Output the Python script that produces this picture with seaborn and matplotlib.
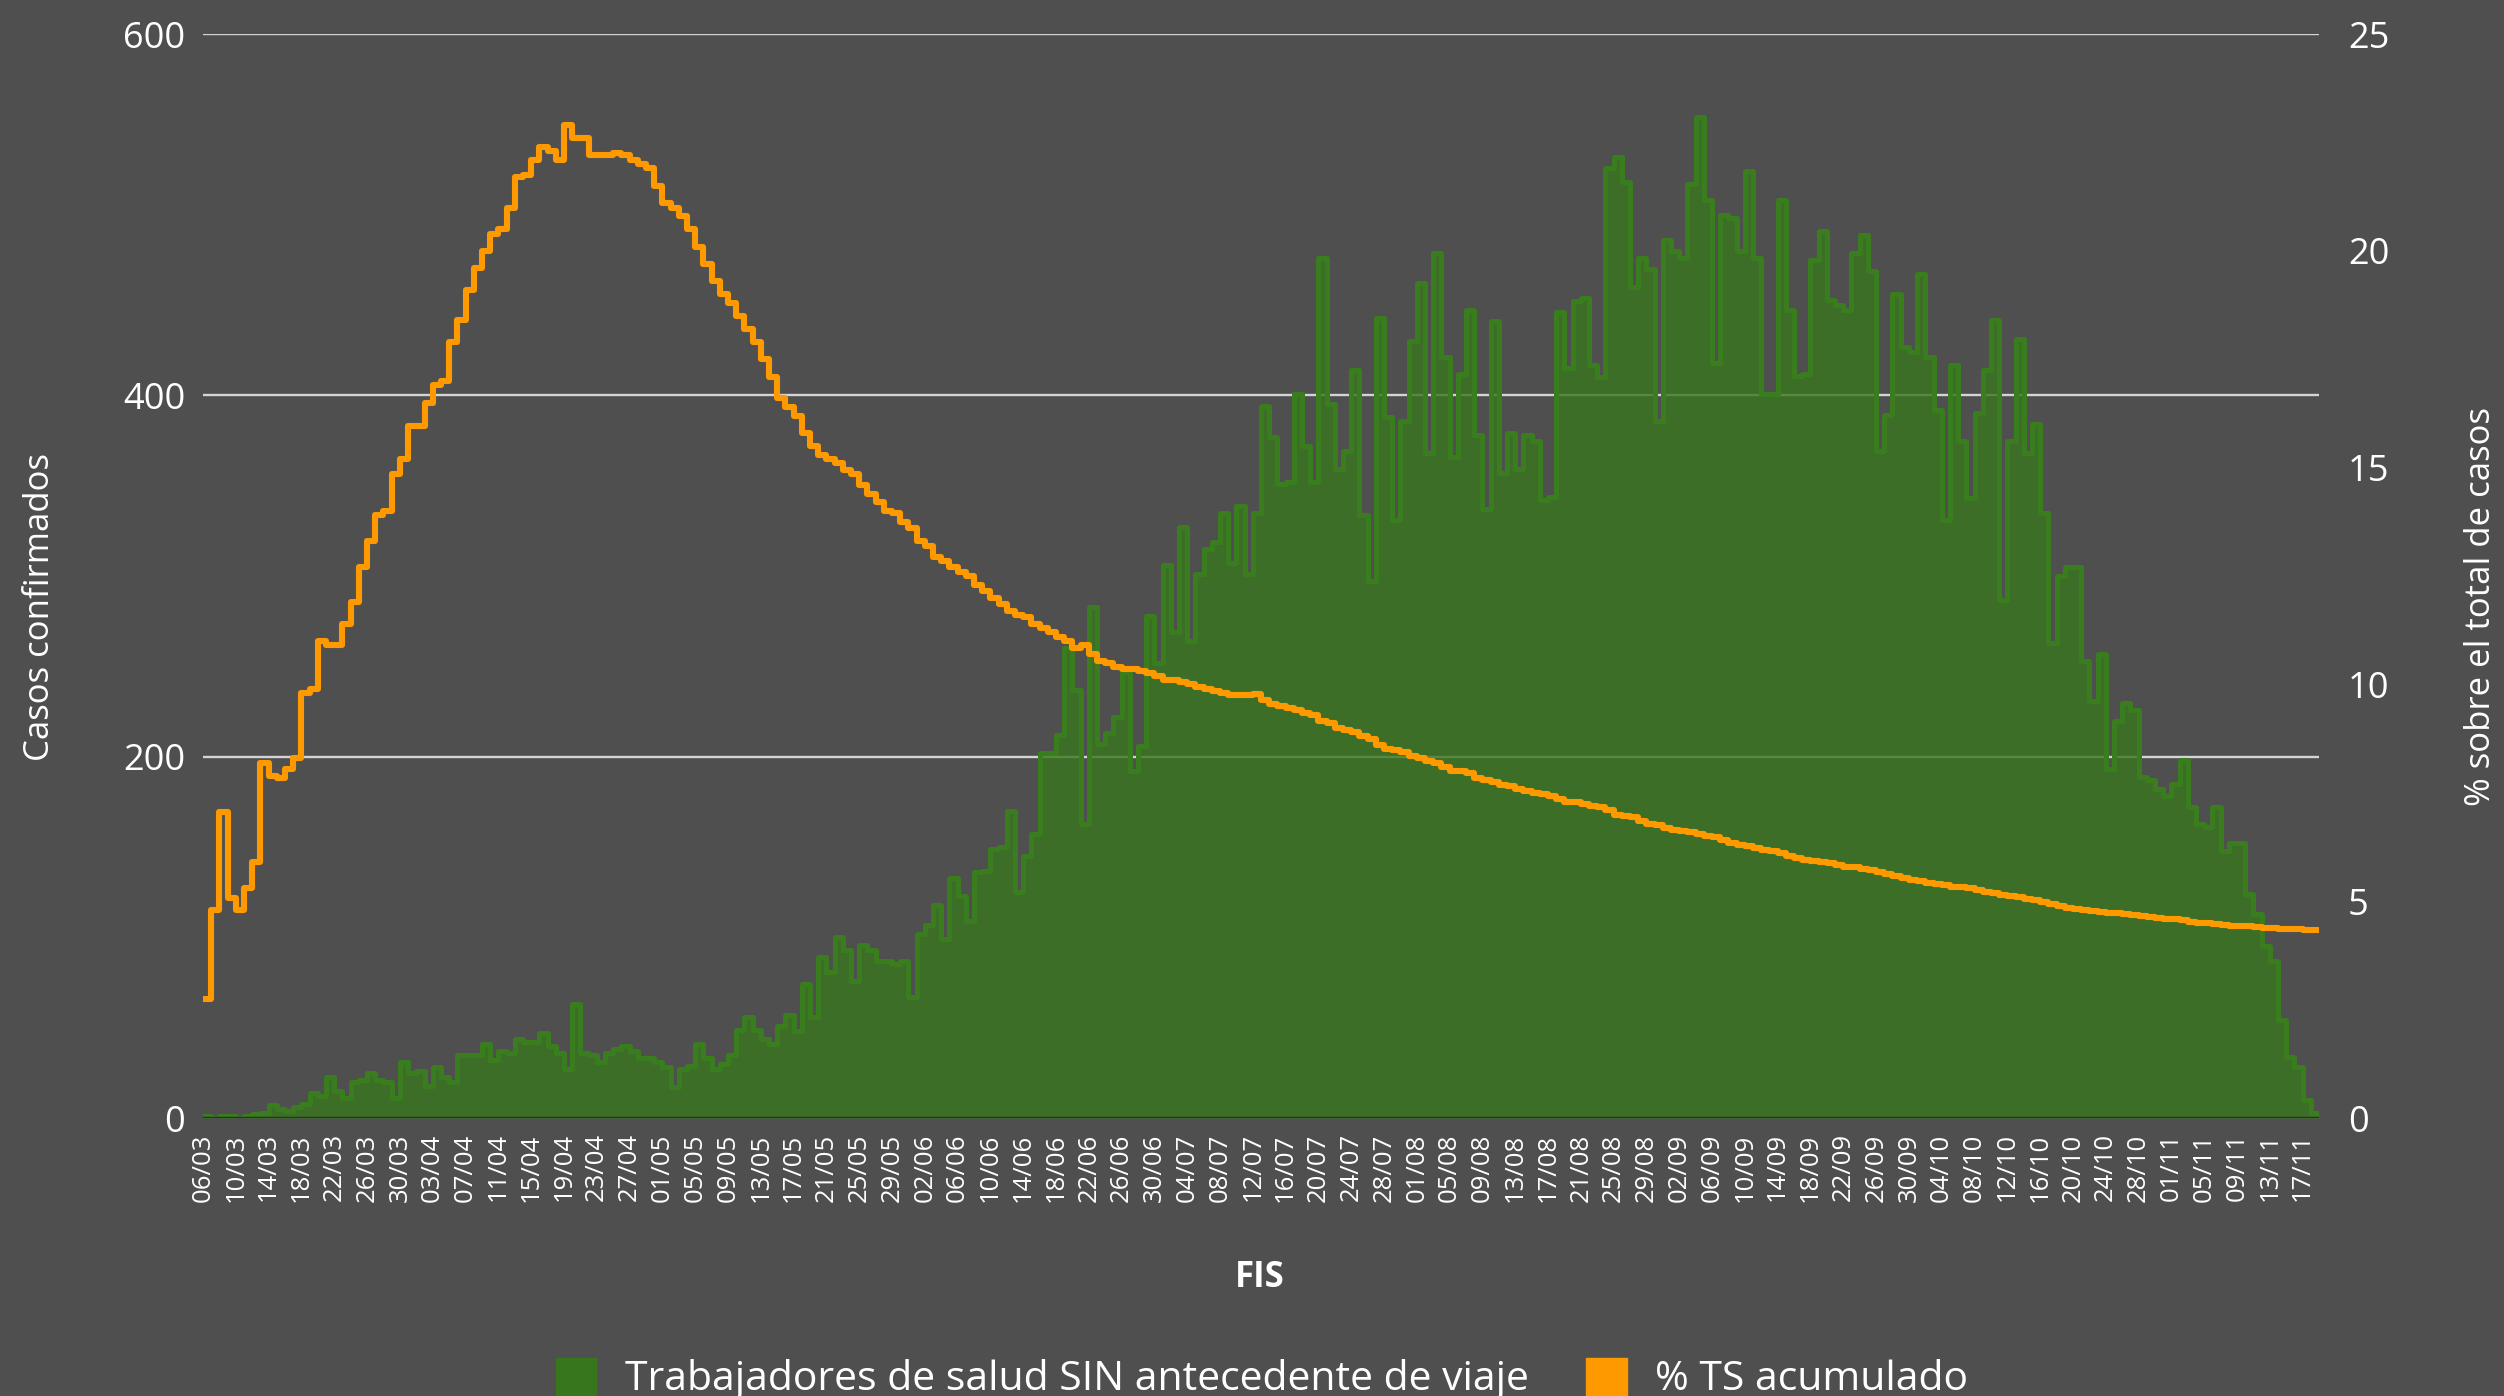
import numpy as np
import pandas as pd
import matplotlib
matplotlib.use("Agg")
import matplotlib.pyplot as plt
import seaborn as sns
from matplotlib.patches import Patch

# daily cases (FIS), one value per day starting 06/03/2020
cases = [
    1, 0, 1, 1, 0, 1, 2, 3, 7, 5,
    4, 6, 8, 14, 12, 23, 15, 11, 20, 21,
    25, 21, 20, 11, 31, 25, 26, 18, 28, 23,
    20, 35, 35, 35, 41, 32, 37, 36, 44, 42,
    42, 47, 40, 36, 27, 63, 36, 35, 31, 36,
    38, 40, 37, 33, 33, 31, 28, 17, 27, 29,
    41, 33, 27, 30, 35, 49, 56, 49, 44, 41,
    51, 57, 48, 74, 56, 89, 81, 100, 93, 76,
    96, 93, 87, 87, 85, 87, 67, 102, 107, 118,
    99, 133, 123, 109, 136, 137, 149, 150, 170, 125,
    145, 157, 202, 202, 212, 260, 237, 163, 283, 207,
    213, 222, 247, 192, 206, 278, 252, 306, 269, 327,
    264, 301, 315, 319, 335, 307, 339, 301, 335, 394,
    377, 351, 352, 401, 372, 352, 476, 395, 359, 369,
    414, 334, 297, 443, 388, 331, 386, 430, 462, 368,
    479, 421, 366, 412, 447, 378, 337, 441, 357, 379,
    359, 378, 375, 342, 344, 446, 415, 452, 454, 417,
    410, 526, 532, 518, 460, 476, 470, 386, 486, 480,
    476, 517, 554, 508, 418, 500, 498, 480, 524, 476,
    401, 401, 508, 447, 411, 412, 475, 491, 453, 450,
    447, 479, 489, 469, 369, 389, 456, 427, 424, 467,
    421, 392, 331, 417, 375, 343, 390, 414, 442, 287,
    375, 431, 368, 384, 335, 263, 300, 305, 305, 253,
    231, 257, 193, 220, 230, 226, 189, 187, 182, 178,
    185, 198, 172, 163, 161, 172, 148, 152, 152, 124,
    113, 95, 87, 54, 34, 28, 10, 3,
]

# % TS acumulado (right axis)
pct = [
    2.75, 4.8, 7.06, 5.08, 4.8, 5.3, 5.9, 8.2, 7.9, 7.85,
    8.05, 8.3, 9.8, 9.9, 11.0, 10.9, 10.9, 11.4, 11.9, 12.7,
    13.3, 13.9, 14.0, 14.85, 15.2, 15.95, 15.95, 16.5, 16.9, 17.0,
    17.9, 18.4, 19.1, 19.6, 20.0, 20.4, 20.5, 21.0, 21.7, 21.75,
    22.1, 22.4, 22.3, 22.1, 22.9, 22.6, 22.6, 22.2, 22.2, 22.2,
    22.25, 22.2, 22.1, 22.0, 21.9, 21.5, 21.1, 21.0, 20.8, 20.5,
    20.1, 19.7, 19.3, 19.0, 18.8, 18.5, 18.2, 17.9, 17.5, 17.1,
    16.6, 16.4, 16.2, 15.8, 15.5, 15.3, 15.2, 15.1, 14.95, 14.85,
    14.6, 14.4, 14.2, 14.0, 13.95, 13.75, 13.6, 13.3, 13.2, 12.95,
    12.85, 12.7, 12.6, 12.5, 12.3, 12.15, 12.0, 11.85, 11.7, 11.6,
    11.55, 11.4, 11.3, 11.2, 11.1, 11.0, 10.85, 10.9, 10.7, 10.55,
    10.5, 10.4, 10.35, 10.35, 10.3, 10.27, 10.2, 10.1, 10.1, 10.05,
    10.0, 9.95, 9.9, 9.85, 9.8, 9.75, 9.75, 9.75, 9.78, 9.65,
    9.55, 9.5, 9.45, 9.4, 9.35, 9.3, 9.15, 9.1, 9.0, 8.95,
    8.9, 8.8, 8.75, 8.6, 8.5, 8.48, 8.45, 8.35, 8.3, 8.23,
    8.2, 8.1, 8.0, 8.0, 7.95, 7.85, 7.8, 7.75, 7.68, 7.65,
    7.6, 7.55, 7.5, 7.48, 7.42, 7.35, 7.3, 7.28, 7.25, 7.2,
    7.17, 7.1, 7.0, 6.97, 6.95, 6.85, 6.78, 6.75, 6.7, 6.65,
    6.63, 6.6, 6.55, 6.5, 6.48, 6.42, 6.35, 6.3, 6.28, 6.22,
    6.18, 6.15, 6.12, 6.05, 6.0, 5.95, 5.93, 5.9, 5.88, 5.83,
    5.8, 5.78, 5.75, 5.72, 5.68, 5.63, 5.58, 5.53, 5.5, 5.46,
    5.43, 5.4, 5.38, 5.34, 5.32, 5.3, 5.27, 5.22, 5.18, 5.15,
    5.13, 5.1, 5.06, 5.02, 4.98, 4.93, 4.88, 4.85, 4.82, 4.8,
    4.78, 4.75, 4.73, 4.72, 4.7, 4.68, 4.66, 4.64, 4.62, 4.6,
    4.58, 4.56, 4.53, 4.51, 4.49, 4.47, 4.45, 4.44, 4.43, 4.42,
    4.4, 4.39, 4.38, 4.37, 4.36, 4.35, 4.34, 4.33,
]

first_day = "2020-03-06"
left_ticks = [0, 200, 400, 600]
right_ticks = [0, 5, 10, 15, 20, 25]

BG = "#4f4f4f"
GREEN = "#38761d"
ORANGE = "#ff9900"

sns.set_theme(style="dark", rc={"axes.facecolor": BG, "figure.facecolor": BG})
plt.rcParams["font.family"] = ["Open Sans", "DejaVu Sans"]

n = len(cases)
dates = pd.date_range(first_day, periods=n)
# each day drawn as a step from d to d+1
df = pd.DataFrame({
    "x": np.arange(n + 1),
    "cases": cases + [cases[-1]],
    "pct": pct + [pct[-1]],
})

fig = plt.figure(figsize=(25.04, 13.96), dpi=100)
ax = fig.add_axes([0.0811, 0.1991, 0.8450, 0.7765])

ax.fill_between(df["x"], df["cases"], step="post", color=GREEN, alpha=0.8, lw=0, zorder=2)
sns.lineplot(data=df, x="x", y="cases", drawstyle="steps-post", color="#3a7d1e",
             lw=3.6, ax=ax, zorder=3, solid_joinstyle="round", solid_capstyle="round")
ax.axhline(0, color="#2e2e2e", lw=2.5, zorder=4)

ax.set_xlim(0, n)
ax.set_ylim(0, 600)
ax.set_yticks(left_ticks)
ax.set_axisbelow(True)
ax.yaxis.grid(True, color="#d4d4d4", lw=1.7)
ax.xaxis.grid(False)
ax.set_xticks(np.arange(0, n, 4))
ax.set_xticklabels(dates[::4].strftime("%d/%m"), rotation=90)
ax.tick_params(axis="x", length=0, pad=11, labelsize=18.5, colors="white")
ax.tick_params(axis="y", length=0, pad=13, labelsize=26, colors="white")
ax.set_xlabel("")
ax.set_ylabel("")

ax2 = ax.twinx()
sns.lineplot(data=df, x="x", y="pct", drawstyle="steps-post", color=ORANGE,
             lw=4.4, ax=ax2, zorder=5, solid_joinstyle="round", solid_capstyle="round")
ax2.set_ylim(0, 25)
ax2.set_yticks(right_ticks)
ax2.grid(False)
ax2.tick_params(axis="y", length=0, pad=21, labelsize=26, colors="white")
ax2.set_ylabel("")

for a in (ax, ax2):
    for s in a.spines.values():
        s.set_visible(False)

fig.text(0.016, 1 - 607 / 1396, "Casos confirmados", rotation=90, ha="center",
         va="center", color="white", fontsize=25)
fig.text(0.991, 1 - 606 / 1396, "% sobre el total de casos", rotation=90,
         ha="center", va="center", color="white", fontsize=25)
fig.text(0.5032, 0.0845, "FIS", ha="center", va="center", color="white",
         fontsize=25, fontweight="bold")

handles = [Patch(color=GREEN), Patch(color=ORANGE)]
fig.legend(handles, ["Trabajadores de salud SIN antecedente de viaje", "% TS acumulado"],
           loc="center", bbox_to_anchor=(0.504, 0.012), ncol=2, frameon=False,
           fontsize=29.4, labelcolor="white", handlelength=1.0, handleheight=1.0,
           handletextpad=0.7, columnspacing=1.4)

fig.savefig("out.png", dpi=100, facecolor=BG)
